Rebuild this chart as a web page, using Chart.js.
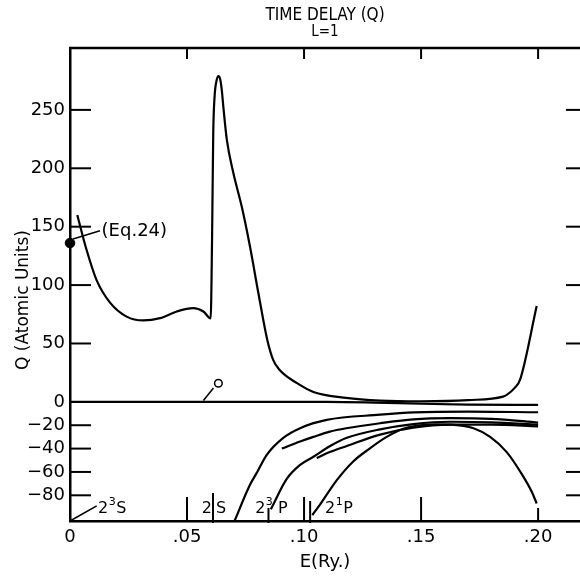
<!DOCTYPE html>
<html><head><meta charset="utf-8">
<script src="https://cdn.jsdelivr.net/npm/chart.js@4.4.1/dist/chart.umd.min.js"></script>
<style>html,body{margin:0;padding:0;background:#fff}canvas{display:block}</style>
</head><body>
<canvas id="c" width="580" height="576" style="width:580px;height:576px"></canvas>
<script>
// ---- tick labels ----
const X_TICKS = [0, 0.05, 0.10, 0.15, 0.20];
const X_TICK_LABELS = ['0', '.05', '.10', '.15', '.20'];
const Y_TICKS = [-80, -60, -40, -20, 0, 50, 100, 150, 200, 250];
const Y_TICK_LABELS = ['\u221280', '\u221260', '\u221240', '\u221220', '0', '50', '100', '150', '200', '250'];

// ---- main time-delay curve ----
const MAIN_E = [0.0031, 0.0071, 0.0114, 0.0171, 0.0242, 0.0313, 0.0385, 0.0456, 0.0527, 0.0570, 0.0601,
  0.0607, 0.0612, 0.0618, 0.0626, 0.0634, 0.0642, 0.0649, 0.0655, 0.0670, 0.0698, 0.0734, 0.0769, 0.0805,
  0.0843, 0.0868, 0.0897, 0.0970, 0.1040, 0.1180, 0.1325, 0.1500, 0.1700, 0.1850, 0.1866, 0.1900, 0.1923, 0.1994];
const MAIN_Q = [160, 130, 104, 85, 73, 69.7, 71.7, 77.4, 80.3, 77.4, 71.5,
  140, 230, 262, 275, 279, 276, 266, 253, 224.5, 196, 167, 133, 93,
  53, 36, 27, 16, 8.5, 3.4, 1.1, 0.5, 1.5, 4.5, 6, 12, 19, 82];

// ---- other eigenvalue curves ----
const Z_E = [0, 0.11, 0.13, 0.15, 0.17, 0.20];
const Z_Q = [0, 0, -0.6, -1.6, -2.3, -2.6];
const A_E = [0.0703, 0.0769, 0.0800, 0.0840, 0.0910, 0.0983, 0.1097, 0.1325, 0.1470, 0.1700, 0.2000];
const A_Q = [-102, -71, -60, -45.5, -31, -22.5, -15.4, -11, -9, -8.3, -8.9];
const B_E = [0.0905, 0.0983, 0.1040, 0.1110, 0.1180, 0.1325, 0.1467, 0.1624, 0.1800, 0.2000];
const B_Q = [-40, -34, -30, -25.5, -22.6, -18.3, -15, -14, -14.5, -17.7];
const C_E = [0.0858, 0.0926, 0.0983, 0.1040, 0.1110, 0.1180, 0.1325, 0.1467, 0.1624, 0.1800, 0.2000];
const C_Q = [-92, -66, -54, -47, -38, -31, -23.5, -19, -17, -17.5, -19.5];
const D_E = [0.1054, 0.1110, 0.1180, 0.1325, 0.1467, 0.1624, 0.1800, 0.2000];
const D_Q = [-48, -43, -38, -28, -22, -19.5, -19.5, -21];
const E_E = [0.1035, 0.1068, 0.1140, 0.1210, 0.1280, 0.1353, 0.1424, 0.1496, 0.1562, 0.1624, 0.1724, 0.1795, 0.1866, 0.1937, 0.1973, 0.1994];
const E_Q = [-97, -88, -67, -51, -40, -30, -23, -20, -19.3, -19.5, -22.6, -30, -43, -64, -77, -87];

// ---- annotations (data units) ----
const EQ24_E = [0];           const EQ24_Q = [136];
const EQ24_LEAD_E = [0.0013, 0.0128]; const EQ24_LEAD_Q = [139.5, 146.5];
const OPEN_E = [0.0634];      const OPEN_Q = [16];
const OPEN_LEAD_E = [0.0570, 0.0613]; const OPEN_LEAD_Q = [1.1, 11.8];
const S3_LEAD_E = [0, 0.0114]; const S3_LEAD_Q = [-102, -89];
const THRESH_E = [0.0611, 0.0848, 0.1026];

const FAM = "'DejaVu Sans', sans-serif";
const COND = "'DejaVu Sans Condensed', 'DejaVu Sans', sans-serif";
const pts = (ex, qy) => ex.map((e, i) => ({x: e, y: qy[i]}));
const curve = (ex, qy) => ({data: pts(ex, qy), borderColor: '#000', borderWidth: 2.2, pointRadius: 0,
  fill: false, cubicInterpolationMode: 'monotone'});
const thin = (ex, qy) => ({data: pts(ex, qy), borderColor: '#000', borderWidth: 1.5, pointRadius: 0, fill: false, clip: false});

const deco = {
  id: 'deco',
  afterDatasetsDraw(chart) {
    const {ctx, chartArea: a, scales: {x, y}} = chart;
    ctx.save();
    ctx.strokeStyle = '#000'; ctx.fillStyle = '#000'; ctx.lineCap = 'butt';
    const seg = (x1, y1, x2, y2) => { ctx.beginPath(); ctx.moveTo(x1, y1); ctx.lineTo(x2, y2); ctx.stroke(); };
    ctx.lineWidth = 2.5;
    seg(a.left - 1, a.top, chart.width, a.top);
    ctx.lineWidth = 2;
    Y_TICKS.forEach(v => {
      if (v === 0) return;
      const py = y.getPixelForValue(v);
      seg(a.left, py, a.left + 21, py);
      seg(chart.width - 14, py, chart.width, py);
    });
    X_TICKS.forEach(v => {
      if (v === 0) return;
      const px = x.getPixelForValue(v);
      seg(px, a.top, px, a.top + 11);
      seg(px, a.bottom, px, a.bottom - (v === 0.20 ? 13 : 24));
    });
    const tl = [28, 13, 20];
    THRESH_E.forEach((e, i) => {
      const px = x.getPixelForValue(e);
      seg(px, a.bottom + 2, px, a.bottom - tl[i]);
    });
    // texts
    ctx.textBaseline = 'middle'; ctx.textAlign = 'left';
    ctx.font = '18px ' + FAM;
    ctx.fillText('(Eq.24)', x.getPixelForValue(0.0135), y.getPixelForValue(146));
    // threshold labels
    ctx.textBaseline = 'alphabetic';
    const base = y.getPixelForValue(-95);
    const lab = (e, parts) => {
      let px = x.getPixelForValue(e);
      parts.forEach(p => {
        if (p.gapTo !== undefined) { px = x.getPixelForValue(p.gapTo); return; }
        ctx.font = (p.sup ? '11px ' : '16px ') + FAM;
        ctx.fillText(p.t, px, base - (p.sup ? 8 : 0));
        px += ctx.measureText(p.t).width + 0.5;
      });
    };
    lab(0.0120, [{t: '2'}, {t: '3', sup: true}, {t: 'S'}]);
    lab(0.0563, [{t: '2'}, {gapTo: 0.0624}, {t: 'S'}]);
    lab(0.0791, [{t: '2'}, {t: '3', sup: true}, {gapTo: 0.0889}, {t: 'P'}]);
    lab(0.1090, [{t: '2'}, {t: '1', sup: true}, {t: 'P'}]);
    // y axis title
    ctx.save();
    ctx.translate(24, 300);
    ctx.rotate(-Math.PI / 2);
    ctx.textAlign = 'center'; ctx.textBaseline = 'middle';
    ctx.font = '17px ' + FAM;
    ctx.fillText('Q (Atomic Units)', 0, 0);
    ctx.restore();
    ctx.restore();
  }
};

Chart.defaults.font.family = FAM;
Chart.defaults.color = '#000';

new Chart(document.getElementById('c'), {
  type: 'line',
  data: {
    datasets: [
      curve(MAIN_E, MAIN_Q),
      curve(Z_E, Z_Q),
      curve(A_E, A_Q),
      curve(B_E, B_Q),
      curve(C_E, C_Q),
      curve(D_E, D_Q),
      curve(E_E, E_Q),
      thin(EQ24_LEAD_E, EQ24_LEAD_Q),
      thin(OPEN_LEAD_E, OPEN_LEAD_Q),
      thin(S3_LEAD_E, S3_LEAD_Q),
      {data: pts(EQ24_E, EQ24_Q), showLine: false, pointRadius: 4.8, pointHoverRadius: 4.8, pointBackgroundColor: '#000', pointBorderColor: '#000', clip: false},
      {data: pts(OPEN_E, OPEN_Q), showLine: false, pointRadius: 3.8, pointHoverRadius: 3.8, pointBackgroundColor: '#fff', pointBorderColor: '#000', pointBorderWidth: 1.5, clip: false}
    ]
  },
  options: {
    responsive: false,
    animation: false,
    devicePixelRatio: 1,
    events: [],
    layout: {autoPadding: false, padding: {left: 0, right: 0, top: 0, bottom: 0}},
    plugins: {
      legend: {display: false},
      tooltip: {enabled: false},
      title: {display: true, fullSize: false, text: 'TIME DELAY (Q)', color: '#000',
        font: {family: COND, size: 17, weight: 'normal'},
        padding: {top: 5, bottom: -2}},
      subtitle: {display: true, fullSize: false, text: 'L=1', color: '#000',
        font: {family: COND, size: 15, weight: 'normal'},
        padding: {top: 0, bottom: 6.6}}
    },
    scales: {
      x: {
        type: 'linear', position: 'bottom', min: 0, max: 0.2179,
        afterBuildTicks: s => { s.ticks = X_TICKS.map(v => ({value: v})); },
        afterFit: s => { s.height = 55; s.paddingRight = 0; s.paddingLeft = 0; },
        grid: {display: false, drawTicks: false},
        border: {display: true, color: '#000', width: 2.5},
        ticks: {font: {size: 18}, color: '#000', padding: 6, maxRotation: 0, autoSkip: false,
          callback: v => X_TICK_LABELS[X_TICKS.indexOf(v)]},
        title: {display: true, text: 'E(Ry.)', color: '#000', font: {size: 18}, padding: {top: 0, bottom: 3}}
      },
      y: {
        type: 'linear', position: 'left', min: -102, max: 303,
        afterBuildTicks: s => { s.ticks = Y_TICKS.map(v => ({value: v})); },
        afterFit: s => { s.width = 70; s.paddingRight = 0; s.paddingLeft = 0; },
        grid: {display: false, drawTicks: false},
        border: {display: true, color: '#000', width: 2.5},
        ticks: {font: {size: 18}, color: '#000', padding: 5, autoSkip: false,
          callback: v => Y_TICK_LABELS[Y_TICKS.indexOf(v)]}
      }
    }
  },
  plugins: [deco]
});
</script>
</body></html>
